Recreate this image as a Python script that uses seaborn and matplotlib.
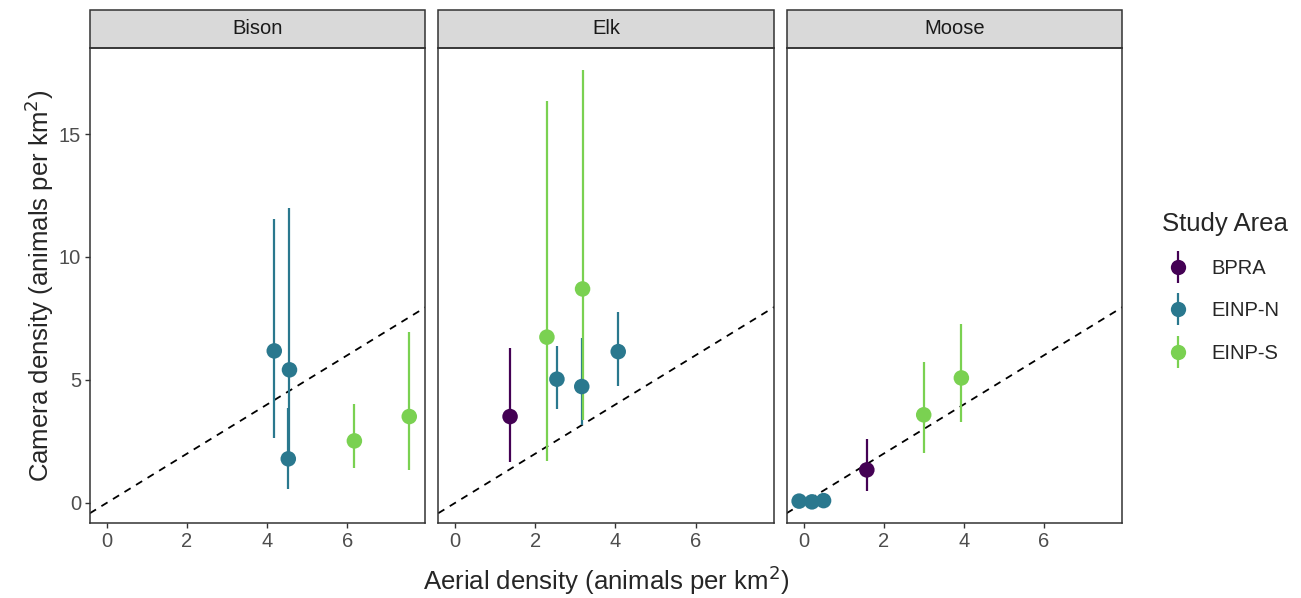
import pandas as pd
import seaborn as sns
import matplotlib.pyplot as plt
import matplotlib.patches as mpatches
from matplotlib.lines import Line2D
from matplotlib.legend_handler import HandlerTuple

# values
species = ['Bison'] * 5 + ['Elk'] * 6 + ['Moose'] * 6
area = ['EINP-N', 'EINP-N', 'EINP-N', 'EINP-S', 'EINP-S',
        'BPRA', 'EINP-S', 'EINP-N', 'EINP-S', 'EINP-N', 'EINP-N',
        'EINP-N', 'EINP-N', 'EINP-N', 'BPRA', 'EINP-S', 'EINP-S']
aerial = [4.18, 4.56, 4.53, 6.18, 7.55,
          1.37, 2.29, 2.54, 3.18, 3.16, 4.07,
          -0.11, 0.21, 0.50, 1.58, 3.00, 3.94]
camera = [6.18, 5.41, 1.79, 2.52, 3.51,
          3.51, 6.74, 5.03, 8.70, 4.73, 6.15,
          0.07, 0.04, 0.09, 1.34, 3.58, 5.08]
lower = [2.64, 1.90, 0.57, 1.42, 1.34,
         1.67, 1.71, 3.83, 3.37, 3.17, 4.77,
         0.02, 0.01, 0.04, 0.50, 2.02, 3.30]
upper = [11.54, 12.00, 3.86, 4.02, 6.95,
         6.30, 16.35, 6.38, 17.60, 6.70, 7.76,
         0.14, 0.10, 0.16, 2.60, 5.74, 7.29]

areas = ['BPRA', 'EINP-N', 'EINP-S']
colors = ['#440154', '#2A788E', '#7AD151']
panels = ['Bison', 'Elk', 'Moose']

df = pd.DataFrame({'species': species, 'area': area, 'aerial': aerial,
                   'camera': camera, 'lower': lower, 'upper': upper})
pal = dict(zip(areas, colors))

sns.set_style('white')
plt.rcParams['font.family'] = ['Liberation Sans', 'DejaVu Sans']

fig, axes = plt.subplots(1, 3, figsize=(13.01, 5.98), dpi=100, sharey=True)
fig.subplots_adjust(left=90 / 1301, right=1122 / 1301, bottom=1 - 523 / 598,
                    top=1 - 48 / 598, wspace=0.039)

for i, (ax, sp) in enumerate(zip(axes, panels)):
    sub = df[df['species'] == sp]
    ax.plot([-1, 9], [-1, 9], ls=(0, (4, 3.5)), color='black', lw=1.3, zorder=1)
    for a in areas:
        s = sub[sub['area'] == a]
        ax.vlines(s['aerial'], s['lower'], s['upper'], color=pal[a], lw=1.6, zorder=2)
    sns.scatterplot(data=sub, x='aerial', y='camera', hue='area', palette=pal,
                    s=125, linewidth=0, legend=False, ax=ax, zorder=3)
    ax.set_xlim(-0.42, 7.95)
    ax.set_ylim(-0.82, 18.5)
    ax.set_xticks([0, 2, 4, 6])
    ax.set_yticks([0, 5, 10, 15])
    ax.set_xlabel('')
    ax.set_ylabel('')
    for sp_ in ax.spines.values():
        sp_.set_color('#333333')
        sp_.set_linewidth(1.1)
    ax.tick_params(axis='both', length=3.5, width=1, color='#333333',
                   labelsize=14.5, labelcolor='#4D4D4D', bottom=True,
                   left=(i == 0), pad=3)
    # facet strip
    strip = mpatches.Rectangle((0, 1), 1, 38 / 475, transform=ax.transAxes,
                               facecolor='#D9D9D9', edgecolor='#333333', lw=1.1,
                               clip_on=False)
    ax.add_patch(strip)
    ax.text(0.5, 1 + 19 / 475, sp, transform=ax.transAxes, ha='center',
            va='center', fontsize=14.5, color='#1A1A1A')

axes[0].set_ylabel('Camera density (animals per km$^2$)', fontsize=18.5, labelpad=2)
fig.text((90 + 1122) / 2 / 1301, 1 - 580 / 598,
         'Aerial density (animals per km$^2$)', ha='center', va='center',
         fontsize=18.5)

handles = []
for a in areas:
    bar = Line2D([], [], ls='none', marker='|', ms=23, mew=1.6, color=pal[a])
    dot = Line2D([], [], ls='none', marker='o', ms=11, mew=0, color=pal[a])
    handles.append((bar, dot))
fig.legend(handles, areas, title='Study Area', loc='upper left',
           handler_map={tuple: HandlerTuple(ndivide=1)},
           bbox_to_anchor=(1148 / 1301, 1 - 198 / 598), frameon=False,
           fontsize=14.5, title_fontsize=18.5, handlelength=1.6,
           labelspacing=1.15, handletextpad=0.85, alignment='left',
           borderaxespad=0.3)

fig.savefig('out.png', dpi=100)
